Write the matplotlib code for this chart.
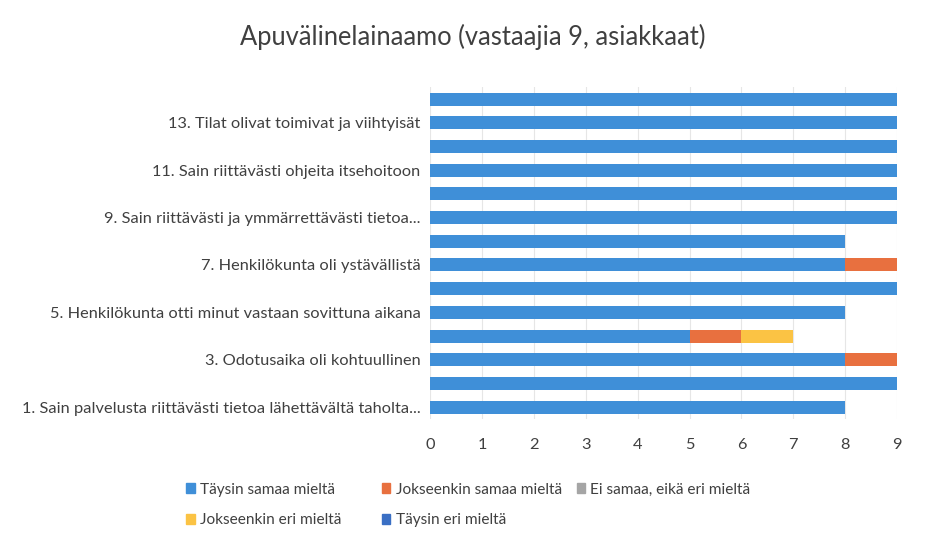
import matplotlib.pyplot as plt
from matplotlib.patches import Patch
import numpy as np

plt.rcParams['font.family'] = ['Lato', 'DejaVu Sans']

# Data (questions 1..14, bottom to top)
questions = np.arange(1, 15)
label_pos = [1, 3, 5, 7, 9, 11, 13]
labels = [
    "1. Sain palvelusta riittävästi tietoa lähettävältä taholta...",
    "3. Odotusaika oli kohtuullinen",
    "5. Henkilökunta otti minut vastaan sovittuna aikana",
    "7. Henkilökunta oli ystävällistä",
    "9. Sain riittävästi ja ymmärrettävästi tietoa...",
    "11. Sain riittävästi ohjeita itsehoitoon",
    "13. Tilat olivat toimivat ja viihtyisät",
]
taysin_samaa = [8, 9, 8, 5, 8, 9, 8, 8, 9, 9, 9, 9, 9, 9]
jokseenkin_samaa = [0, 0, 1, 1, 0, 0, 1, 0, 0, 0, 0, 0, 0, 0]
ei_samaa_eika_eri = [0, 0, 0, 0, 0, 0, 0, 0, 0, 0, 0, 0, 0, 0]
jokseenkin_eri = [0, 0, 0, 1, 0, 0, 0, 0, 0, 0, 0, 0, 0, 0]
taysin_eri = [0, 0, 0, 0, 0, 0, 0, 0, 0, 0, 0, 0, 0, 0]

series = [
    ("Täysin samaa mieltä", taysin_samaa, '#3f8fd8'),
    ("Jokseenkin samaa mieltä", jokseenkin_samaa, '#e8703f'),
    ("Ei samaa, eikä eri mieltä", ei_samaa_eika_eri, '#a5a5a5'),
    ("Jokseenkin eri mieltä", jokseenkin_eri, '#fbc344'),
    ("Täysin eri mieltä", taysin_eri, '#3a6fc4'),
]

fig = plt.figure(figsize=(9.31, 5.42), dpi=100)
ax = fig.add_axes([0.462, 0.227, 0.5015, 0.612])

left = np.zeros(len(questions))
for name, vals, col in series:
    vals = np.array(vals, dtype=float)
    ax.barh(questions, vals, left=left, height=0.55, color=col, label=name)
    left += vals

ax.set_xlim(0, 9)
ax.set_ylim(0.5, 14.5)
ax.set_xticks(range(10))
ax.set_yticks(label_pos)
ax.set_yticklabels(labels)
ax.tick_params(axis='both', length=0, labelsize=11.8, colors='#404040')
ax.tick_params(axis='x', pad=14)
ax.tick_params(axis='y', pad=7)
ax.grid(axis='x', color='#e6e6e6', linewidth=0.8)
ax.set_axisbelow(True)
for s in ax.spines.values():
    s.set_visible(False)

fig.suptitle("Apuvälinelainaamo (vastaajia 9, asiakkaat)", x=0.508, y=0.955,
             fontsize=18.4, color='#404040')

# legend laid out like the original: three columns at fixed x positions
handles = [Patch(color=c, label=n) for n, v, c in series]
columns = [([0, 3], 0.192), ([1, 4], 0.402), ([2], 0.611)]
for idx, x in columns:
    fig.legend(handles=[handles[i] for i in idx], loc='upper left',
               bbox_to_anchor=(x, 0.124), frameon=False, borderpad=0,
               fontsize=11.1, handlelength=0.55, handleheight=0.55,
               handletextpad=0.35, labelcolor='#404040', labelspacing=1.1)

fig.savefig('out.png', dpi=100)
